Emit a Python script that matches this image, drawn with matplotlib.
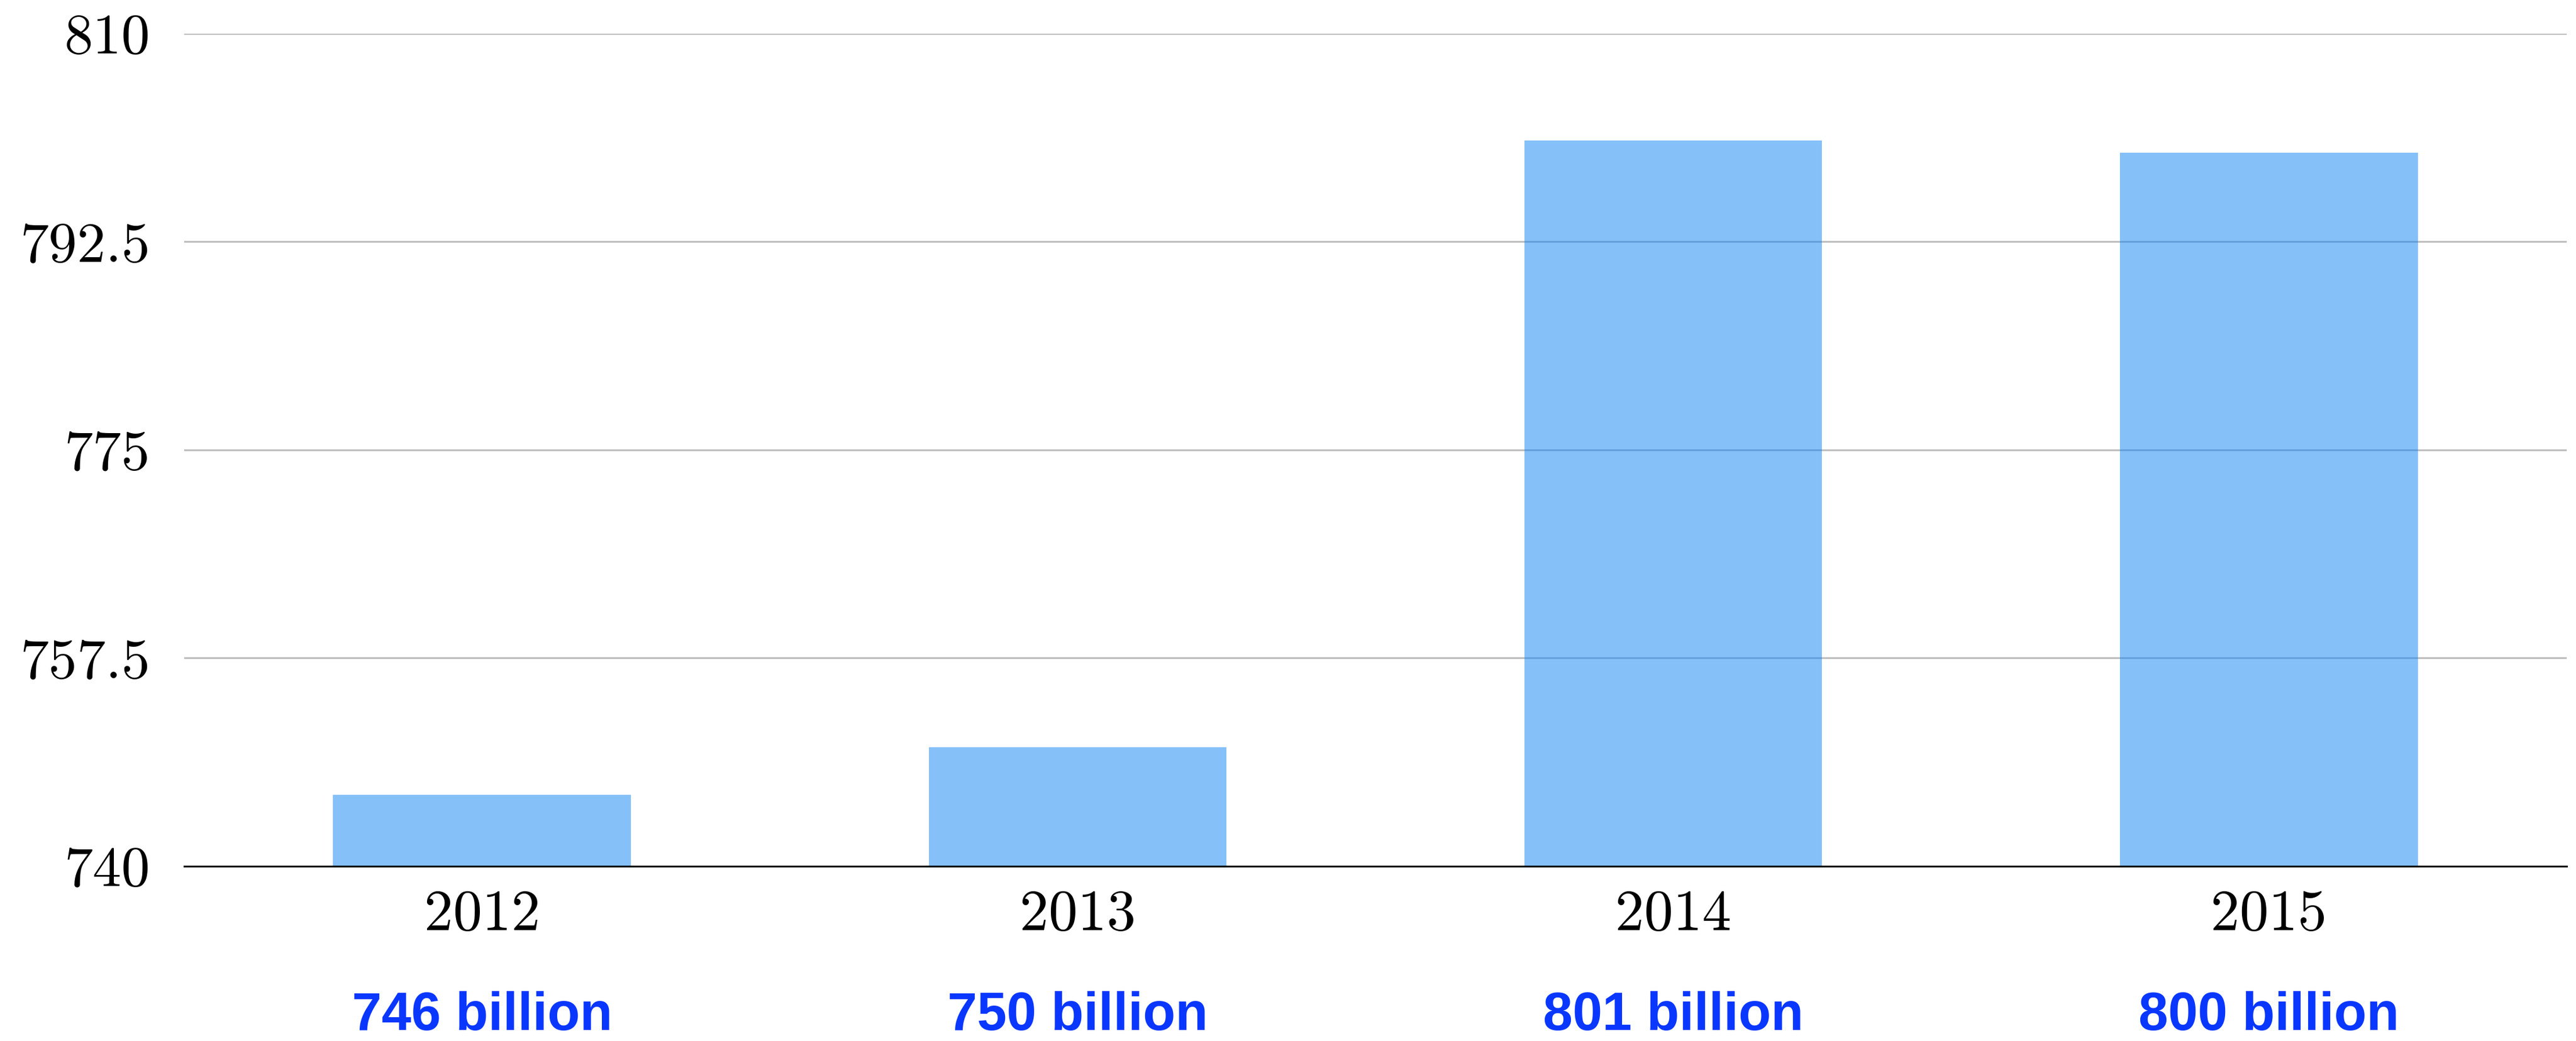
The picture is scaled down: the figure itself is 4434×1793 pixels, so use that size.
import numpy as np
import matplotlib
matplotlib.use("Agg")
import matplotlib.pyplot as plt
import matplotlib.transforms as mtransforms

years = ["2012", "2013", "2014", "2015"]
values = [746, 750, 801, 800]
value_labels = ["746 billion", "750 billion", "801 billion", "800 billion"]
yticks = [740, 757.5, 775, 792.5, 810]
ytick_labels = ["740", "757.5", "775", "792.5", "810"]

y_min, y_max = 740, 810

fig = plt.figure(figsize=(44.34, 17.93), dpi=100)
ax = fig.add_axes([0.0715, 0.1679, 0.9249, 0.7998])

x = np.arange(len(years))
ax.bar(x, np.array(values) - y_min, bottom=y_min, width=0.5,
       color="#0f83f5", alpha=0.5, zorder=3)

ax.set_xlim(-0.5, len(years) - 0.5)
ax.set_ylim(y_min, y_max)

# grid
ax.set_yticks(yticks)
ax.set_yticklabels(ytick_labels, family="cmr10", fontsize=71)
ax.set_xticks(x)
ax.set_xticklabels(years, family="cmr10", fontsize=72)
ax.grid(axis="y", color="#bdbdbd", linewidth=2.2, zorder=1)
ax.set_axisbelow(True)
ax.tick_params(axis="y", length=0, pad=42)
ax.tick_params(axis="x", length=0, pad=29)

for s in ["left", "right", "top"]:
    ax.spines[s].set_visible(False)
ax.spines["bottom"].set_color("black")
ax.spines["bottom"].set_linewidth(2.2)
ax.spines["bottom"].set_zorder(4)

# value labels under the years
trans = mtransforms.blended_transform_factory(ax.transData, ax.transAxes)
for xi, lab in zip(x, value_labels):
    ax.text(xi, -0.197, lab, transform=trans, ha="center", va="baseline",
            family="Liberation Sans", fontweight="bold", fontsize=66,
            color="#0937ff", clip_on=False)

fig.savefig("out.png", dpi=100)
